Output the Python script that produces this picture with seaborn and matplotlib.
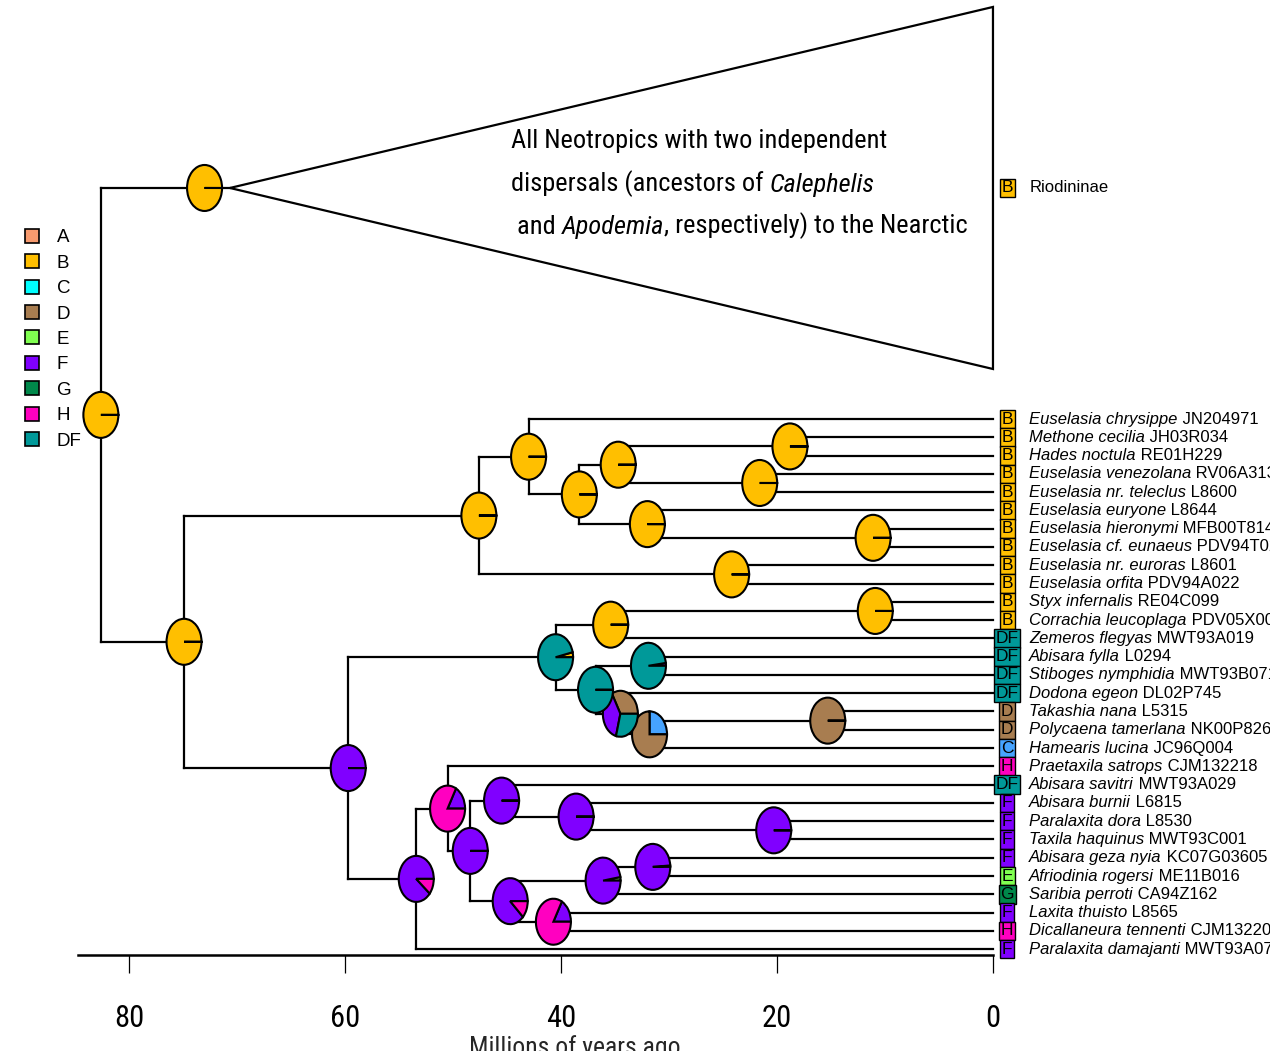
import matplotlib
matplotlib.use("Agg")
import matplotlib.pyplot as plt
import matplotlib.transforms as mtransforms
from matplotlib.patches import Wedge, Polygon
from matplotlib.lines import Line2D
from matplotlib import font_manager as fm
import seaborn as sns

# ---- data ----
areas = ["A", "B", "C", "D", "E", "F", "G", "H", "DF"]
area_colors = ["#F79A6E", "#FFBF00", "#00FFFF", "#A87D50", "#80FF50",
               "#8000FF", "#00884A", "#FF00C0", "#009999"]

tip_species = ["Euselasia chrysippe", "Methone cecilia", "Hades noctula",
               "Euselasia venezolana", "Euselasia nr. teleclus", "Euselasia euryone",
               "Euselasia hieronymi", "Euselasia cf. eunaeus", "Euselasia nr. euroras",
               "Euselasia orfita", "Styx infernalis", "Corrachia leucoplaga",
               "Zemeros flegyas", "Abisara fylla", "Stiboges nymphidia", "Dodona egeon",
               "Takashia nana", "Polycaena tamerlana", "Hamearis lucina",
               "Praetaxila satrops", "Abisara savitri", "Abisara burnii",
               "Paralaxita dora", "Taxila haquinus", "Abisara geza nyia",
               "Afriodinia rogersi", "Saribia perroti", "Laxita thuisto",
               "Dicallaneura tennenti", "Paralaxita damajanti"]
tip_codes = ["JN204971", "JH03R034", "RE01H229", "RV06A313", "L8600", "L8644",
             "MFB00T814", "PDV94T029", "L8601", "PDV94A022", "RE04C099", "PDV05X001",
             "MWT93A019", "L0294", "MWT93B071", "DL02P745", "L5315", "NK00P826",
             "JC96Q004", "CJM132218", "MWT93A029", "L6815", "L8530", "MWT93C001",
             "KC07G03605", "ME11B016", "CA94Z162", "L8565", "CJM132202", "MWT93A075"]
tip_areas = ["B"] * 12 + ["DF"] * 4 + ["D", "D", "C", "H", "DF", "F", "F", "F", "F",
                                       "E", "G", "F", "H", "F"]

# internal nodes in postorder: name, age (Ma), child 1, child 2
nodes = [
    ("n01", 18.8, 1, 2), ("n02", 21.6, 3, 4), ("n03", 34.7, "n01", "n02"),
    ("n04", 11.1, 6, 7), ("n05", 32.0, 5, "n04"), ("n06", 38.3, "n03", "n05"),
    ("n07", 43.0, 0, "n06"), ("n08", 24.2, 8, 9), ("n09", 47.6, "n07", "n08"),
    ("n10", 10.9, 10, 11), ("n11", 35.4, "n10", 12), ("n12", 31.9, 13, 14),
    ("n13", 15.3, 16, 17), ("n14", 31.8, "n13", 18), ("n15", 34.5, 15, "n14"),
    ("n16", 36.8, "n12", "n15"), ("n17", 40.5, "n11", "n16"),
    ("n18", 20.3, 22, 23), ("n19", 38.6, 21, "n18"), ("n20", 45.5, 20, "n19"),
    ("n21", 31.5, 24, 25), ("n22", 36.1, "n21", 26), ("n23", 40.7, 27, 28),
    ("n24", 44.7, "n22", "n23"), ("n25", 48.4, "n20", "n24"),
    ("n26", 50.5, 19, "n25"), ("n27", 53.4, "n26", 29), ("n28", 59.7, "n17", "n27"),
    ("n29", 74.9, "n09", "n28"), ("root", 82.6, "riod", "n29"),
]

# collapsed Riodininae clade
riod_stem_age = 73.0
riod_crown_age = 70.65
riod_label = "Riodininae"
riod_area = "B"

# ancestral range probabilities at nodes (missing areas = 0)
pie_fracs = {
    "riod": {"B": 1}, "root": {"B": 1}, "n29": {"B": 1}, "n09": {"B": 1},
    "n07": {"B": 1}, "n06": {"B": 1}, "n03": {"B": 1}, "n01": {"B": 1},
    "n02": {"B": 1}, "n05": {"B": 1}, "n04": {"B": 1}, "n08": {"B": 1},
    "n10": {"B": 1}, "n11": {"B": 1},
    "n17": {"B": 0.035, "DF": 0.965},
    "n12": {"F": 0.02, "DF": 0.98},
    "n16": {"DF": 1},
    "n15": {"D": 0.33, "F": 0.38, "DF": 0.29},
    "n14": {"C": 0.25, "D": 0.75},
    "n13": {"D": 1},
    "n28": {"F": 1},
    "n27": {"F": 0.89, "H": 0.11},
    "n26": {"F": 0.17, "H": 0.83},
    "n25": {"F": 1}, "n20": {"F": 1}, "n19": {"F": 1}, "n18": {"F": 1},
    "n24": {"F": 0.88, "H": 0.12},
    "n22": {"E": 0.025, "F": 0.975},
    "n21": {"E": 0.01, "F": 0.99},
    "n23": {"F": 0.17, "H": 0.83},
}

x_ticks = [80, 60, 40, 20, 0]

# ---- style ----
sns.set_theme(style="white")
plt.rcParams["font.family"] = ["Liberation Sans", "DejaVu Sans"]
plt.rcParams["text.color"] = "black"

installed = {f.name for f in fm.fontManager.ttflist}
narrow = "Liberation Sans"
for cand in ["Liberation Sans Narrow", "Roboto Condensed", "PT Sans Narrow",
             "Archivo Narrow", "Barlow Semi Condensed"]:
    if cand in installed:
        narrow = cand
        break

colors = dict(zip(areas, area_colors))
pie_colors = dict(colors)
pie_colors["C"] = "#46A3FF"

fig = plt.figure(figsize=(12.7, 10.51), dpi=100)
ax = fig.add_axes([0, 96 / 1051, 1, 955 / 1051])
ax.set_xlim(91.94, -25.65)
ax.set_ylim(29.32, -22.92)

# layout of the tree
riod_top, riod_bottom = -22.54, -2.735
pos = {i: float(i) for i in range(len(tip_species))}
age = {i: 0.0 for i in range(len(tip_species))}
pos["riod"] = (riod_top + riod_bottom) / 2
age["riod"] = riod_crown_age
for name, a, c1, c2 in nodes:
    pos[name] = (pos[c1] + pos[c2]) / 2
    age[name] = a

lw = 1.6
for name, a, c1, c2 in nodes:
    ax.plot([a, a], [pos[c1], pos[c2]], color="black", lw=lw,
            solid_capstyle="projecting", zorder=1)
    for c in (c1, c2):
        ax.plot([a, age[c]], [pos[c], pos[c]], color="black", lw=lw,
                solid_capstyle="projecting", zorder=1)

ax.add_patch(Polygon([(riod_crown_age, pos["riod"]), (0, riod_top), (0, riod_bottom)],
                     closed=True, facecolor="white", edgecolor="black", lw=lw, zorder=1))


def draw_pie(x, y, fracs):
    trans = (mtransforms.Affine2D().scale(0.175, 0.23) + fig.dpi_scale_trans
             + mtransforms.ScaledTranslation(x, y, ax.transData))
    start = 0.0
    for area in areas:
        f = fracs.get(area, 0)
        if f <= 0:
            continue
        end = min(start + 360 * f, start + 359.9)
        ax.add_patch(Wedge((0, 0), 1, start, end, facecolor=pie_colors[area],
                           edgecolor="black", lw=1.5, transform=trans, zorder=3))
        start += 360 * f


for name, a, c1, c2 in nodes:
    draw_pie(a, pos[name], pie_fracs[name])
draw_pie(riod_stem_age, pos["riod"], pie_fracs["riod"])

# tip area boxes and labels
box_x, label_x = -1.3, -3.35
tip_fs = 12
box_fs = 12.5
for i, (sp, code, ar) in enumerate(zip(tip_species, tip_codes, tip_areas)):
    ax.text(box_x, pos[i], ar, ha="center", va="center", fontsize=box_fs, zorder=4,
            bbox=dict(boxstyle="square,pad=0.1", fc=pie_colors[ar], ec="black", lw=1.0))
    t = ax.text(label_x, pos[i], sp, ha="left", va="center", style="italic",
                fontsize=tip_fs, zorder=4)
    ax.annotate(" " + code, xy=(1, 0), xycoords=t, ha="left", va="bottom",
                fontsize=tip_fs, zorder=4)

ax.text(box_x, pos["riod"], riod_area, ha="center", va="center", fontsize=box_fs,
        zorder=4, bbox=dict(boxstyle="square,pad=0.1", fc=colors[riod_area], ec="black", lw=1.0))
ax.text(label_x, pos["riod"], riod_label, ha="left", va="center", fontsize=tip_fs, zorder=4)

# note inside the collapsed clade
note_fs = 19
t1 = ax.text(44.63, -15.2, "All Neotropics with two independent", family=narrow,
             fontsize=note_fs, ha="left", va="center")
t2 = ax.text(44.63, -12.86, "dispersals (ancestors of ", family=narrow,
             fontsize=note_fs, ha="left", va="center")
ax.annotate("Calephelis", xy=(1, 0), xycoords=t2, family=narrow, style="italic",
            fontsize=note_fs, ha="left", va="bottom")
t3 = ax.text(44.63, -10.5, " and ", family=narrow, fontsize=note_fs, ha="left", va="center")
t4 = ax.annotate("Apodemia", xy=(1, 0), xycoords=t3, family=narrow, style="italic",
                 fontsize=note_fs, ha="left", va="bottom")
ax.annotate(", respectively) to the Nearctic", xy=(1, 0), xycoords=t4, family=narrow,
            fontsize=note_fs, ha="left", va="bottom")

# legend
handles = [Line2D([], [], ls="", marker="s", ms=10, mfc=c, mec="black", mew=1.2)
           for c in area_colors]
ax.legend(handles, areas, loc="upper left", bbox_to_anchor=(14.8 / 1270, 1 - 221.5 / 1051),
          bbox_transform=fig.transFigure, frameon=False, fontsize=13.5, handlelength=1.0,
          handletextpad=0.85, labelspacing=0.445, borderaxespad=0)

# time axis
sns.despine(ax=ax, left=True, top=True, right=True)
ax.spines["bottom"].set_bounds(0, 84.7)
ax.spines["bottom"].set_linewidth(1.8)
ax.spines["bottom"].set_color("black")
ax.set_yticks([])
ax.set_xticks(x_ticks)
ax.set_xticklabels([str(v) for v in x_ticks], family=narrow, fontsize=22)
ax.tick_params(axis="x", direction="out", length=13, width=0.9, pad=22,
               colors="black", bottom=True)
ax.set_xlabel("Millions of years ago", family=narrow, fontsize=18.5, va="top")
ax.xaxis.set_label_coords(575 / 1270, -80 / 955)

fig.savefig("out.png", dpi=100)
